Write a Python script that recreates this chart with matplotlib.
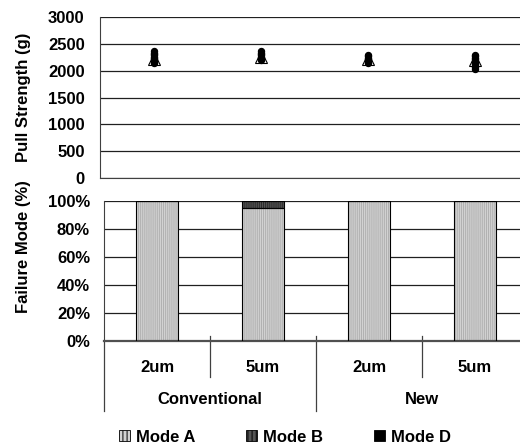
import matplotlib
matplotlib.use("Agg")
import matplotlib.pyplot as plt
from matplotlib.patches import Patch
from matplotlib.lines import Line2D
import matplotlib.transforms as mtransforms

plt.rcParams['font.family'] = ['Liberation Sans', 'DejaVu Sans']
plt.rcParams['font.weight'] = 'bold'
plt.rcParams['hatch.linewidth'] = 0.7

# ---- data ----
sizes = ["2um", "5um", "2um", "5um"]
groups = ["Conventional", "New"]
pull_conv_2um = [2360, 2335, 2310, 2285, 2260, 2235, 2210, 2185, 2160, 2135]
pull_conv_5um = [2360, 2335, 2310, 2285, 2260, 2235, 2210, 2195]
pull_new_2um = [2290, 2265, 2240, 2215, 2190, 2170, 2150]
pull_new_5um = [2300, 2270, 2240, 2210, 2180, 2150, 2120, 2090, 2065, 2040]
pull_mean = [2220, 2250, 2215, 2200]
mode_a = [100, 95, 100, 100]
mode_b = [0, 5, 0, 0]
mode_d = [0, 0, 0, 0]

pull_points = [pull_conv_2um, pull_conv_5um, pull_new_2um, pull_new_5um]
xpos = list(range(len(sizes)))

W, H = 520, 445
fig = plt.figure(figsize=(W / 100, H / 100), dpi=100)

grid_kw = dict(color='#202020', linewidth=0.9)

# ---- top: pull strength ----
ax1 = fig.add_axes([100 / W, (H - 178) / H, 428 / W, 161 / H])
ax1.set_xlim(-0.5, 3.5)
ax1.set_ylim(0, 3000)
ax1.set_yticks(range(0, 3001, 500))
ax1.yaxis.grid(True, **grid_kw)
ax1.set_axisbelow(True)
ax1.set_xticks([])
for s in ['top', 'right']:
    ax1.spines[s].set_visible(False)
ax1.spines['left'].set_color('#404040')
ax1.spines['bottom'].set_color('#404040')
ax1.tick_params(axis='y', length=0, pad=11, labelsize=12)
for x, pts in zip(xpos, pull_points):
    ax1.plot([x] * len(pts), pts, linestyle='none', marker='o', markersize=4.3,
             color='black', zorder=4)
ax1.plot(xpos, pull_mean, linestyle='none', marker='^', markersize=9,
         markerfacecolor='white', markeredgecolor='black', markeredgewidth=0.8,
         zorder=3)
fig.text(24 / W, (H - 97) / H, "Pull Strength (g)", rotation=90,
         ha='center', va='center', fontsize=12, fontweight='bold')

# ---- bottom: failure mode ----
ax2 = fig.add_axes([104 / W, (H - 341) / H, 424 / W, 140 / H])
ax2.set_xlim(-0.5, 3.5)
ax2.set_ylim(0, 100)
ax2.set_yticks(range(0, 101, 20))
ax2.set_yticklabels([f"{v}%" for v in range(0, 101, 20)])
ax2.yaxis.grid(True, **grid_kw)
ax2.set_axisbelow(True)
for s in ['top', 'right']:
    ax2.spines[s].set_visible(False)
ax2.spines['left'].set_color('#404040')
ax2.spines['bottom'].set_color('#505050')
ax2.spines['bottom'].set_linewidth(1.6)
ax2.tick_params(axis='y', length=0, pad=10, labelsize=12)
ax2.set_xticks([])

bw = 0.4
colA, hatchA = '#d2d2d2', '#b0b0b0'
colB, hatchB = '#555555', '#2a2a2a'
colD = '#000000'
bottoms = [0] * 4
for vals, fc, hc in [(mode_a, colA, hatchA), (mode_b, colB, hatchB), (mode_d, colD, colD)]:
    ax2.bar(xpos, vals, bw, bottom=bottoms, color=fc, edgecolor=hc, hatch='||||||||',
            linewidth=0, zorder=2)
    ax2.bar(xpos, vals, bw, bottom=bottoms, fill=False, edgecolor='black',
            linewidth=0.8, zorder=3)
    bottoms = [b + v for b, v in zip(bottoms, vals)]

fig.text(24 / W, (H - 247) / H, "Failure Mode (%)", rotation=90,
         ha='center', va='center', fontsize=12, fontweight='bold')

# multi-level category axis
tr = mtransforms.blended_transform_factory(ax2.transData, ax2.transAxes)
px = 1.0 / 140
for x, lab in zip(xpos, sizes):
    ax2.text(x, -26 * px, lab, transform=tr, ha='center', va='center',
             fontsize=12, fontweight='bold')
for i, g in enumerate(groups):
    ax2.text(2 * i + 0.5, -59 * px, g, transform=tr, ha='center', va='center',
             fontsize=12, fontweight='bold')
for b in [0.5, 2.5]:
    ax2.add_line(Line2D([b, b], [5 * px, -36 * px], transform=tr, color='#404040',
                        linewidth=0.9, clip_on=False))
for b in [-0.5, 1.5, 3.5]:
    ax2.add_line(Line2D([b, b], [5 * px if b > 0 else 0, -70 * px], transform=tr,
                        color='#404040', linewidth=0.9, clip_on=False))

# legend
handles = [Patch(facecolor=colA, edgecolor='black', hatch='||||', linewidth=0.6),
           Patch(facecolor=colB, edgecolor='black', hatch='||||', linewidth=0.6),
           Patch(facecolor=colD, edgecolor='black', linewidth=0.6)]
fig.legend(handles, ["Mode A", "Mode B", "Mode D"], ncol=3, loc='center',
           bbox_to_anchor=(285 / W, 8 / H), frameon=False, fontsize=12,
           handlelength=0.66, handleheight=0.66, handletextpad=0.36,
           columnspacing=3.05, borderpad=0, borderaxespad=0)

fig.savefig("out.png", dpi=100)
